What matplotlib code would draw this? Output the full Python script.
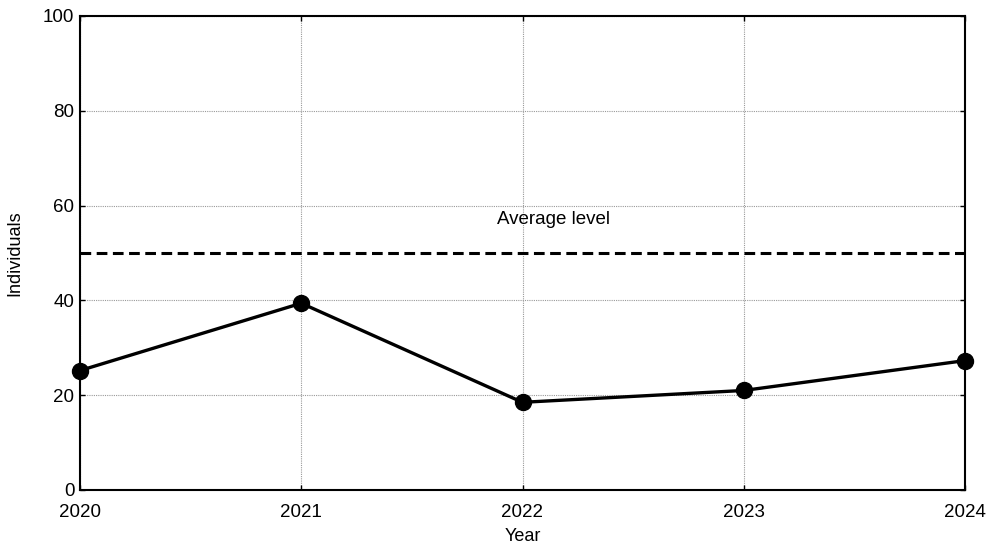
import numpy as np
import matplotlib.pyplot as plt

plt.rcParams['font.family'] = ['Liberation Sans', 'DejaVu Sans']

years = [2020, 2021, 2022, 2023, 2024]
individuals = [25.2, 39.4, 18.5, 21.0, 27.3]
average_level = 50
yticks = [0, 20, 40, 60, 80, 100]

fig = plt.figure(figsize=(9.89, 5.52), dpi=100)
ax = fig.add_axes([80 / 989, 1 - 490 / 552, 885 / 989, 474 / 552])

ax.plot(years, individuals, color='black', linewidth=2.4, marker='o',
        markersize=11.5, zorder=3, clip_on=False)
ax.axhline(average_level, color='black', linestyle=(0, (3.5, 1.8)),
           linewidth=2.2, zorder=3)
ax.text(2022.14, 57, 'Average level', ha='center', va='center', fontsize=13.5)

ax.set_xlim(2020, 2024)
ax.set_ylim(0, 100)
ax.set_xticks(years)
ax.set_yticks(yticks)
ax.tick_params(direction='in', top=True, right=True, labelsize=13.5,
               length=3.5, width=1)
ax.tick_params(axis='x', pad=10)
ax.tick_params(axis='y', pad=4)
ax.grid(True, color='#999999', linestyle=(0, (1, 1)), linewidth=0.8)
for s in ax.spines.values():
    s.set_linewidth(1.5)

ax.set_xlabel('Year', fontsize=13, labelpad=5)
ax.set_ylabel('Individuals', fontsize=13, labelpad=14)

fig.savefig('out.png', dpi=100)
